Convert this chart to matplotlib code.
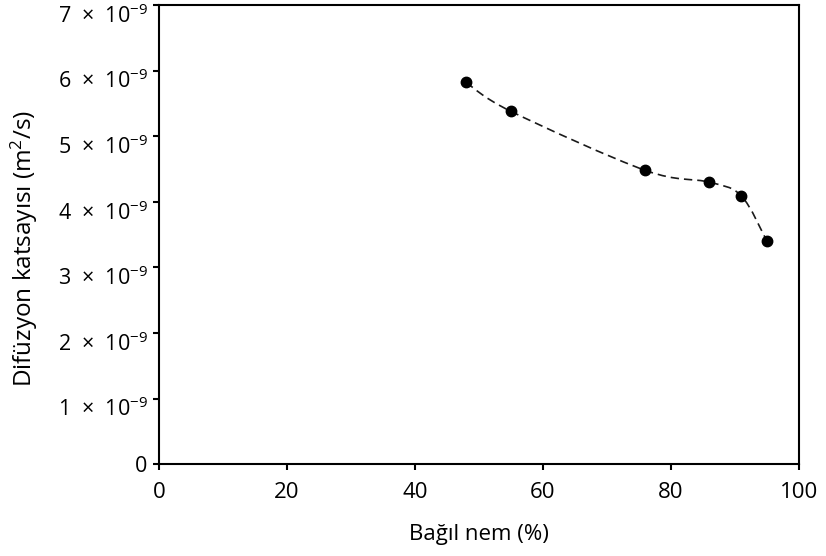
import numpy as np
import matplotlib
matplotlib.use('Agg')
import matplotlib.pyplot as plt
import matplotlib.transforms as mtransforms
from matplotlib.path import Path
from matplotlib.patches import PathPatch
from matplotlib.ticker import FixedLocator, FuncFormatter

# --- Data ---
humidity = [48, 55, 76, 86, 91, 95]              # %
diffusion = [5.82e-9, 5.38e-9, 4.48e-9, 4.30e-9, 4.09e-9, 3.40e-9]  # m^2/s
x_ticks = [0, 20, 40, 60, 80, 100]
y_ticks = [0, 1e-9, 2e-9, 3e-9, 4e-9, 5e-9, 6e-9, 7e-9]

FONT = 'Open Sans'
plt.rcParams['font.family'] = [FONT, 'DejaVu Sans']
plt.rcParams['mathtext.fontset'] = 'custom'
plt.rcParams['mathtext.rm'] = FONT
plt.rcParams['mathtext.it'] = FONT + ':italic'
plt.rcParams['mathtext.bf'] = FONT + ':bold'

fig = plt.figure(figsize=(8.26, 5.56), dpi=100)
ax = fig.add_axes([0.1923, 0.1649, 0.775, 0.826])

# --- Smooth dashed curve through the points (Catmull-Rom as cubic Bezier) ---
pts = np.column_stack([humidity, diffusion])
ext = np.vstack([pts[0], pts, pts[-1]])
verts = [tuple(pts[0])]
codes = [Path.MOVETO]
for i in range(1, len(ext) - 2):
    p0, p1, p2, p3 = ext[i - 1], ext[i], ext[i + 1], ext[i + 2]
    c1 = p1 + (p2 - p0) / 6
    c2 = p2 - (p3 - p1) / 6
    verts += [tuple(c1), tuple(c2), tuple(p2)]
    codes += [Path.CURVE4] * 3
curve = PathPatch(Path(verts, codes), facecolor='none', edgecolor='#1a1a1a',
                  lw=1.2, linestyle=(0, (5, 3)), zorder=2)
ax.add_patch(curve)

ax.plot(humidity, diffusion, 'o', color='black', markersize=7.5, zorder=3)

# --- Axes styling ---
ax.set_xlim(0, 100)
ax.set_ylim(0, 7e-9)
ax.xaxis.set_major_locator(FixedLocator(x_ticks))
ax.yaxis.set_major_locator(FixedLocator(y_ticks))


def sci_label(v, pos):
    n = int(round(v * 1e9))
    if n == 0:
        return '0'
    return '%d  ×  10$^{-9}$' % n


ax.yaxis.set_major_formatter(FuncFormatter(sci_label))
for s in ax.spines.values():
    s.set_linewidth(1.5)
ax.tick_params(direction='out', length=4, width=1.5)
ax.tick_params(axis='x', labelsize=16, pad=9)
ax.tick_params(axis='y', labelsize=15.5, pad=4)

# exponent labels sit a little below their ticks
shift = mtransforms.ScaledTranslation(0, -6 / 72, fig.dpi_scale_trans)
fig.canvas.draw()
for lbl in ax.get_yticklabels():
    if lbl.get_text() != '0':
        lbl.set_transform(lbl.get_transform() + shift)

ax.set_xlabel('Bağıl nem (%)', fontsize=16, labelpad=15)
ax.set_ylabel('Difüzyon katsayısı (m$^2$/s)', fontsize=17.5)
ax.yaxis.set_label_coords(-0.185, 0.47)

plt.savefig('out.png', dpi=100)
plt.close()
